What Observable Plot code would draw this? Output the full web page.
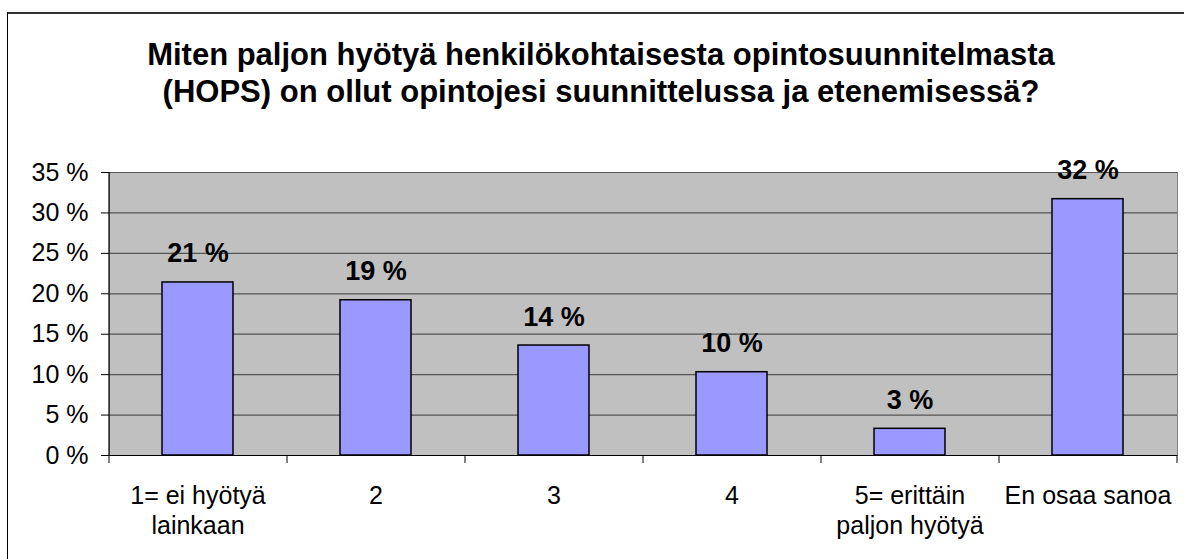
<!DOCTYPE html>
<html>
<head>
<meta charset="utf-8">
<script src="https://cdn.jsdelivr.net/npm/d3@7"></script>
<script src="https://cdn.jsdelivr.net/npm/@observablehq/plot@0.6"></script>
<style>
  html, body { margin: 0; padding: 0; background: #fff; width: 1184px; height: 559px; overflow: hidden; }
  body { position: relative; font-family: "Liberation Sans", Arial, sans-serif; }
  #frame { position: absolute; left: 7px; top: 12px; width: 1200px; height: 600px;
           border-top: 2px solid #333; border-left: 1px solid #000; box-sizing: border-box; }
  #title { position: absolute; left: 7px; top: 36px; width: 1188px; text-align: center;
           font-weight: bold; font-size: 31px; line-height: 37px; color: #000; }
  #chart { position: absolute; left: 0; top: 125px; }
</style>
</head>
<body>
<div id="frame"></div>
<div id="title"></div>
<div id="chart"></div>
<script>
const titleLines = [
  "Miten paljon hyötyä henkilökohtaisesta opintosuunnitelmasta",
  "(HOPS) on ollut opintojesi suunnittelussa ja etenemisessä?"
];
const categories = [
  "1= ei hyötyä\nlainkaan",
  "2",
  "3",
  "4",
  "5= erittäin\npaljon hyötyä",
  "En osaa sanoa"
];
const values = [21.4, 19.2, 13.6, 10.3, 3.3, 31.7];
const yTicks = [0, 5, 10, 15, 20, 25, 30, 35];

document.getElementById("title").innerHTML = titleLines.join("<br>");

const data = categories.map((c, i) => ({cat: c, value: values[i]}));

const W = 1184, H = 434, mL = 109, mR = 7, mT = 47, mB = 104;
const step = (W - mL - mR) / categories.length;

const chart = Plot.plot({
  width: W,
  height: H,
  marginLeft: mL,
  marginRight: mR,
  marginTop: mT,
  marginBottom: mB,
  style: {fontFamily: "'Liberation Sans', Arial, sans-serif", fontSize: "25px", color: "#000", background: "transparent", overflow: "visible"},
  x: {domain: categories, paddingInner: 0.6, paddingOuter: 0.3, label: null},
  y: {domain: [0, 35], label: null},
  marks: [
    Plot.frame({fill: "#c0c0c0", stroke: "#808080"}),
    Plot.ruleY(yTicks.filter(t => t > 0), {stroke: "#555", strokeWidth: 1.2}),
    Plot.barY(data, {x: "cat", y: "value", fill: "#9999ff", stroke: "#000", strokeWidth: 1.5}),
    Plot.text(data, {x: "cat", y: "value", text: d => Math.round(d.value) + " %", dy: -20, lineAnchor: "bottom", fontWeight: "bold", fontSize: 27, fill: "#000"}),
    Plot.ruleY([0], {stroke: "#000", strokeWidth: 1.2}),
    Plot.ruleX([categories[0]], {stroke: "#000", strokeWidth: 1.2, dx: -step / 2}),
    Plot.axisY({ticks: yTicks, tickFormat: d => d + " %", tickSize: 8, tickPadding: 13, fontSize: 25, label: null, stroke: "#000", fill: "#000"}),
    Plot.axisX(categories, {tickSize: 8, tickFormat: () => "", dx: -step / 2, label: null, stroke: "#000"}),
    Plot.axisX([categories[categories.length - 1]], {tickSize: 8, tickFormat: () => "", dx: step / 2, label: null, stroke: "#000"}),
    Plot.axisX(categories, {tickSize: 0, tickPadding: 28, lineHeight: 1.18, fontSize: 25, label: null, fill: "#000"})
  ]
});
document.getElementById("chart").appendChild(chart);
</script>
</body>
</html>
